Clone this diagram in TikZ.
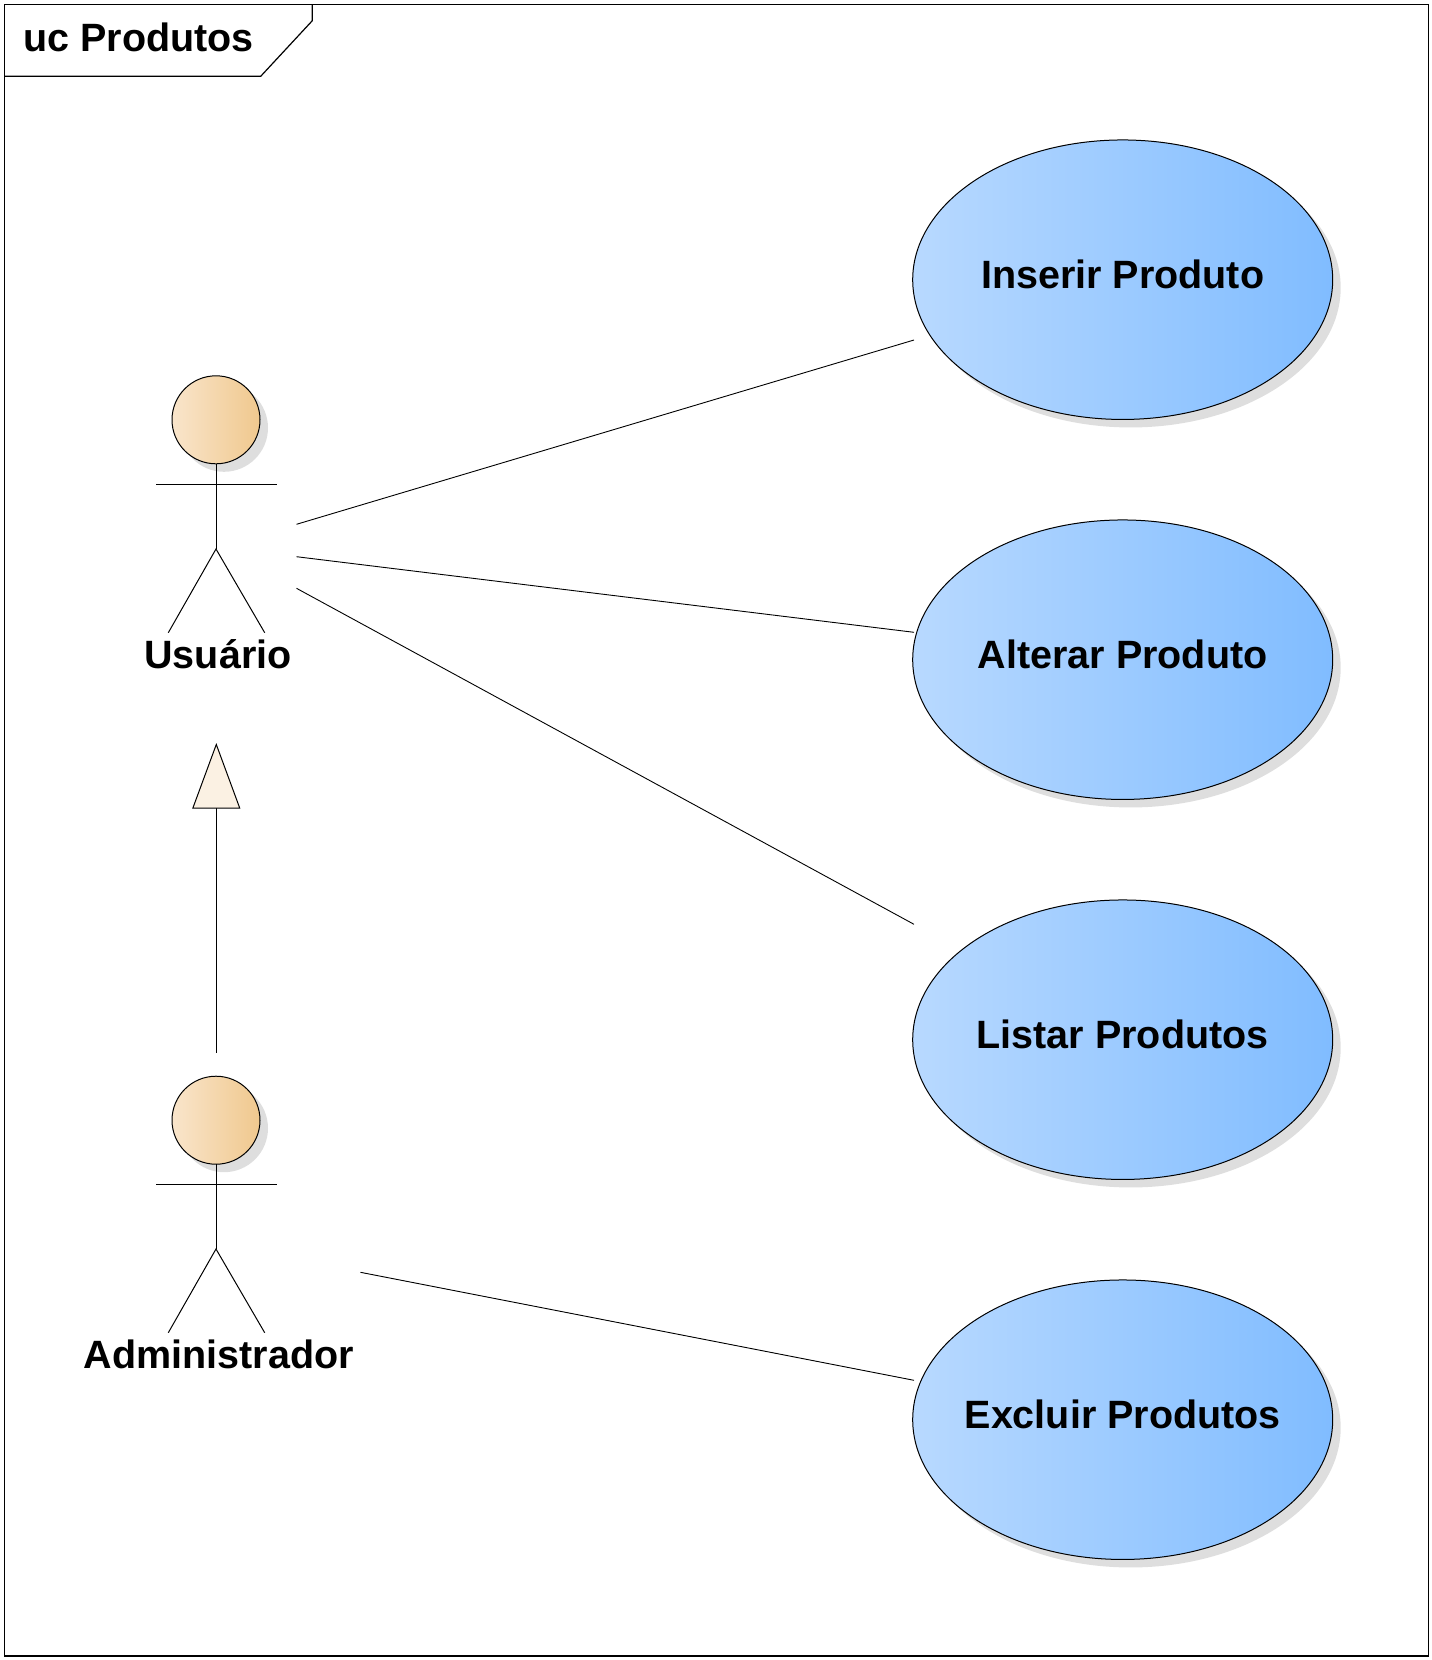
\documentclass[tikz,border=0pt]{standalone}
\usepackage{fontspec}
\setmainfont{Liberation Sans}
\usetikzlibrary{shapes.geometric, arrows.meta, shadows}
\definecolor{usecaseleft}{RGB}{184,217,255}
\definecolor{usecaseright}{RGB}{128,188,255}
\definecolor{actorleft}{RGB}{249,229,203}
\definecolor{actorright}{RGB}{240,200,142}
\definecolor{gencolor}{RGB}{251,241,227}
\definecolor{shadowgray}{RGB}{222,222,222}
\newcommand{\uctext}[1]{\makebox[0pt]{#1}}

\begin{document}
\begin{tikzpicture}[
    x=1pt, y=-1pt,
    line width=1pt,
    labelfont/.style={font=\fontsize{39.5}{44}\selectfont\bfseries, inner sep=0pt, outer sep=0pt},
    softshadow/.style={drop shadow={shadow xshift=8pt, shadow yshift=-8pt, opacity=1, fill=shadowgray}},
    usecase/.style={ellipse, draw, softshadow, left color=usecaseleft, right color=usecaseright, minimum width=420pt, minimum height=279.5pt, inner sep=0pt, outer sep=0pt, labelfont, text height=29pt, text depth=12pt},
    head/.style={circle, draw, softshadow, left color=actorleft, right color=actorright, minimum size=88pt, inner sep=0pt, outer sep=0pt},
    actorname/.style={labelfont, anchor=base},
    assoc/.style={line width=0.9pt},
    generalize/.style={-{Triangle[length=65.5pt, width=48pt, fill=gencolor]}}
]
    \useasboundingbox (0,0) rectangle (1432,1660);

    % Frame
    \draw[line width=1.2pt] (4.7,4.7) rectangle (1428.3,1656);
    \draw[line width=1.2pt] (312.3,4.7) -- (312.3,20.7) -- (260.7,76.3) -- (4.7,76.3);
    \node[labelfont, anchor=base west] (frametitle) at (23.5,51.7) {uc Produtos};

    % Use cases
    \node[usecase] (inserir) at (1122.7,279.7) {\uctext{Inserir Produto}};
    \node[usecase] (alterar) at (1122.7,659.7) {\uctext{Alterar Produto}};
    \node[usecase] (listar) at (1122.7,1039.7) {\uctext{Listar Produtos}};
    \node[usecase] (excluir) at (1122.7,1419.7) {\uctext{Excluir Produtos}};

    % Usuario
    \node[head] (usuario) at (216,419.8) {};
    \draw (usuario.south) -- (216,549);
    \draw (156,484.3) -- (276.7,484.3);
    \draw (168.3,632.7) -- (216,549) -- (264.7,632.7);
    \node[actorname] (usuariolabel) at (218,668.2) {Usuário};

    % Administrador
    \node[head] (admin) at (216,1120.2) {};
    \draw (admin.south) -- (216,1249);
    \draw (156,1184.3) -- (276.7,1184.3);
    \draw (168.3,1332.7) -- (216,1249) -- (264.7,1332.7);
    \node[actorname] (adminlabel) at (218.7,1368.3) {Administrador};

    % Connector ends
    \coordinate (usuarioA) at (296.5,524.3);
    \coordinate (usuarioB) at (296.5,556.7);
    \coordinate (usuarioC) at (296.5,588.3);
    \coordinate (adminA) at (360.5,1272.3);
    \coordinate (inserirend) at (914,340);
    \coordinate (alterarend) at (914,632.3);
    \coordinate (listarend) at (914,924.3);
    \coordinate (excluirend) at (914,1380.3);
    \coordinate (genstart) at (216.3,1052.7);
    \coordinate (genend) at (216.3,743);

    % Associations
    \draw[assoc] (usuarioA) -- (inserirend);
    \draw[assoc] (usuarioB) -- (alterarend);
    \draw[assoc] (usuarioC) -- (listarend);
    \draw[assoc] (adminA) -- (excluirend);

    % Generalization
    \draw[generalize] (genstart) -- (genend);
\end{tikzpicture}
\end{document}
